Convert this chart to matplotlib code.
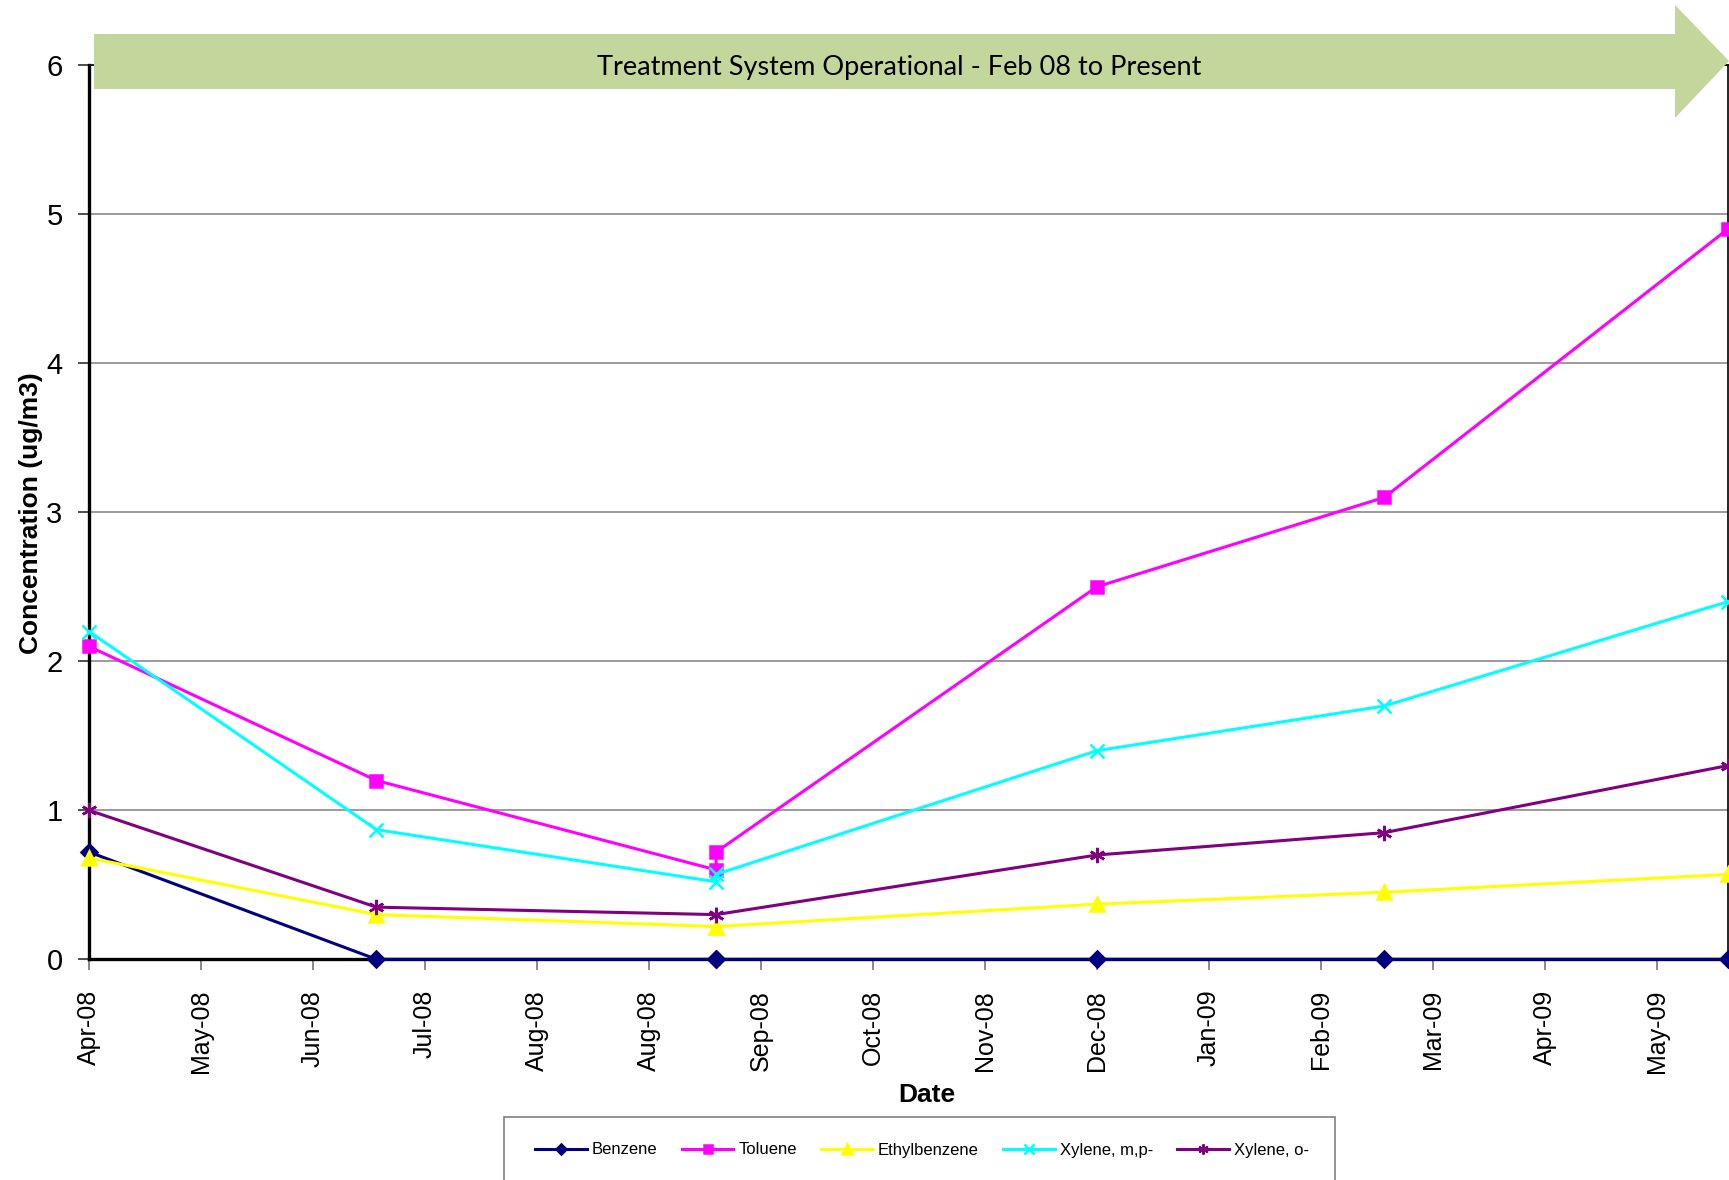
import numpy as np
import pandas as pd
import matplotlib
matplotlib.use("Agg")
import matplotlib.pyplot as plt
import matplotlib.dates as mdates
from matplotlib.patches import Polygon, Rectangle

# Soil-gas monitoring results, one entry per sampling event
SAMPLE_DATES = ["2008-04-03", "2008-06-19", "2008-09-18", "2008-09-18",
                "2008-12-29", "2009-03-16", "2009-06-16"]
BENZENE      = [0.72, 0.0, 0.0, 0.0, 0.0, 0.0, 0.0]
TOLUENE      = [2.1, 1.2, 0.6, 0.72, 2.5, 3.1, 4.9]
ETHYLBENZENE = [0.68, 0.3, 0.22, 0.22, 0.37, 0.45, 0.57]
XYLENE_MP    = [2.2, 0.87, 0.52, 0.57, 1.4, 1.7, 2.4]
XYLENE_O     = [1.0, 0.35, 0.3, 0.3, 0.7, 0.85, 1.3]

SERIES = [
    ("Benzene",      BENZENE,      "#000080", "D",         8),
    ("Toluene",      TOLUENE,      "#FF00FF", "s",         9),
    ("Ethylbenzene", ETHYLBENZENE, "#FFFF00", "^",        10),
    ("Xylene, m,p-", XYLENE_MP,    "#00FFFF", "x",        10),
    ("Xylene, o-",   XYLENE_O,     "#800080", (6, 2, 0),  11),
]

BANNER_TEXT = "Treatment System Operational - Feb 08 to Present"
TICK_STEP_DAYS = 30

W, H = 1729, 1180
dates = pd.to_datetime(SAMPLE_DATES)

fig = plt.figure(figsize=(W / 100, H / 100), dpi=100)
ax = fig.add_axes([89 / W, 1 - 959.3 / H, (1727.7 - 89) / W, (959.3 - 65.3) / H])

for name, vals, col, mk, ms in SERIES:
    ax.plot(dates, vals, color=col, lw=2.2, marker=mk, ms=ms,
            mec=col, mfc=col, mew=1.8, label=name, clip_on=False, zorder=3)

ax.set_xlim(dates[0], dates[-1])
ax.set_ylim(0, 6)
ax.set_yticks(range(0, 7))

# Excel-style date axis: a tick every 30 days from the first sample
ticks = pd.date_range(dates[0], dates[-1], freq=f"{TICK_STEP_DAYS}D")
ax.set_xticks(ticks)
ax.xaxis.set_major_formatter(mdates.DateFormatter("%b-%y"))
plt.setp(ax.get_xticklabels(), rotation=90)

ax.tick_params(axis="y", length=8, width=1.3, color="#404040", pad=11,
               labelsize=21, labelfontfamily="Liberation Sans")
ax.tick_params(axis="x", length=8, width=1.3, color="#808080", pad=14,
               labelsize=18, labelfontfamily="Liberation Sans")

ax.grid(axis="y", color="#808080", lw=1.1)
ax.set_axisbelow(True)
for side in ["left", "bottom"]:
    ax.spines[side].set_linewidth(2.4)
    ax.spines[side].set_color("black")
ax.spines["right"].set_linewidth(1.2)
ax.spines["top"].set_linewidth(1.2)

fig.text(31 / W, 1 - 513 / H, "Concentration (ug/m3)", rotation=90,
         ha="center", va="center", fontsize=19, fontweight="bold",
         family="Liberation Sans")
fig.text(927 / W, 1 - 1095 / H, "Date", ha="center", va="center",
         fontsize=19, fontweight="bold", family="Liberation Sans")

# green banner arrow across the top of the plot
arrow_px = [(94, 34), (1675, 34), (1675, 5), (1729, 61),
            (1675, 118), (1675, 89), (94, 89)]
arrow = Polygon([(x / W, 1 - y / H) for x, y in arrow_px], closed=True,
                transform=fig.transFigure, facecolor="#C3D69B",
                edgecolor="none", zorder=5)
fig.patches.append(arrow)
fig.text(899 / W, 1 - 68 / H, BANNER_TEXT, ha="center", va="center",
         fontsize=19.5, family="Lato", zorder=6)

# legend box along the bottom edge
box = Rectangle((504 / W, 1 - 1185 / H), (1335 - 504) / W, (1185 - 1117) / H,
                transform=fig.transFigure, facecolor="white",
                edgecolor="#808080", lw=1.2, zorder=1)
fig.patches.append(box)
fig.legend(loc="center", bbox_to_anchor=(922 / W, 1 - 1150 / H), ncol=5,
           frameon=False, handlelength=3.1, handletextpad=0.3,
           columnspacing=1.45, markerscale=0.65,
           prop={"family": "Liberation Sans", "size": 12})

fig.savefig("out.png", dpi=100)
